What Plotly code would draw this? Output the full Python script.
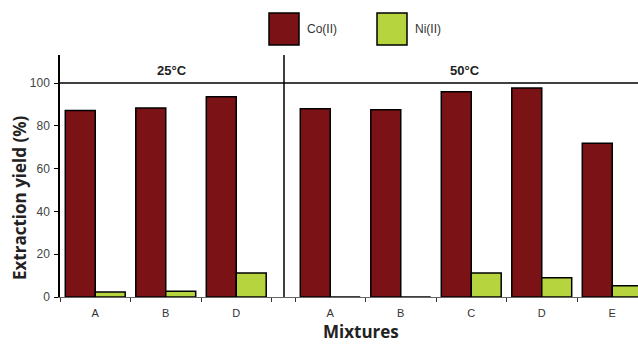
import plotly.graph_objects as go

W, H = 638, 344

# ---- data ----
mix_25 = ["A", "B", "D"]
co_25 = [87.2, 88.3, 93.6]
ni_25 = [2.3, 2.7, 11.2]

mix_50 = ["A", "B", "C", "D", "E"]
co_50 = [88.0, 87.5, 95.9, 97.7, 71.8]
ni_50 = [0.0, 0.0, 11.2, 9.0, 5.3]

series_names = ["Co(II)", "Ni(II)"]
colors = ["#7A1216", "#B5D43E"]
panel_titles = ["25°C", "50°C"]

def px(x):
    return x / W

def py(y):
    return 1 - y / H

fig = go.Figure()
line = dict(color="black", width=1.5)
fig.add_trace(go.Bar(x=mix_25, y=co_25, name=series_names[0], marker=dict(color=colors[0], line=line),
                     xaxis="x", yaxis="y", offsetgroup="co"))
fig.add_trace(go.Bar(x=mix_25, y=ni_25, name=series_names[1], marker=dict(color=colors[1], line=line),
                     xaxis="x", yaxis="y", offsetgroup="ni"))
fig.add_trace(go.Bar(x=mix_50, y=co_50, name=series_names[0], marker=dict(color=colors[0], line=line),
                     xaxis="x2", yaxis="y", offsetgroup="co", showlegend=False))
fig.add_trace(go.Bar(x=mix_50, y=ni_50, name=series_names[1], marker=dict(color=colors[1], line=line),
                     xaxis="x2", yaxis="y", offsetgroup="ni", showlegend=False))

tickfont = dict(family="Liberation Sans, Arial, sans-serif", size=11, color="#333333")
ytickfont = dict(family="Liberation Sans, Arial, sans-serif", size=12, color="#444444")
cat_w = 70.5
xcommon = dict(type="category", tickson="boundaries", ticks="outside", ticklen=4, tickcolor="#333333",
               showline=True, linecolor="#666666", linewidth=1, showgrid=False, zeroline=False,
               tickfont=tickfont, ticklabelstandoff=6, anchor="y", fixedrange=True)
fig.update_layout(
    width=W, height=H, margin=dict(l=0, r=0, t=0, b=0, autoexpand=False),
    paper_bgcolor="white", plot_bgcolor="white",
    barmode="group", bargap=0.15, bargroupgap=0,
    showlegend=False,
    xaxis=dict(domain=[px(60), px(284)], range=[-0.5, -0.5 + (284 - 60) / cat_w],
               categoryorder="array", categoryarray=mix_25, **xcommon),
    xaxis2=dict(domain=[px(284), 1], range=[-0.5 - 11 / cat_w, -0.5 + (638 - 295) / cat_w],
                categoryorder="array", categoryarray=mix_50, **xcommon),
    yaxis=dict(domain=[py(297), py(55)], range=[0, 242 / 2.14], tickvals=[0, 20, 40, 60, 80, 100],
               ticks="outside", ticklen=4, tickcolor="black", showline=True, linecolor="black",
               linewidth=1.5, showgrid=False, zeroline=False, tickfont=ytickfont, anchor="x",
               ticklabelstandoff=2, fixedrange=True),
)

shapes = [
    # panel divider
    dict(type="line", xref="paper", yref="paper", x0=px(284), x1=px(284), y0=py(297), y1=py(55),
         line=dict(color="black", width=1.5)),
    # strip line at 100
    dict(type="line", xref="paper", yref="y", x0=px(60), x1=1, y0=100, y1=100,
         line=dict(color="black", width=1.5)),
]
# legend boxes
leg_x = [269, 377]
for i in range(2):
    shapes.append(dict(type="rect", xref="paper", yref="paper", x0=px(leg_x[i]), x1=px(leg_x[i] + 30),
                       y0=py(45), y1=py(13), fillcolor=colors[i], line=dict(color="black", width=1.5)))
fig.update_layout(shapes=shapes)

ann = []
legfont = dict(family="Liberation Sans, Arial, sans-serif", size=12, color="#333333")
for i in range(2):
    ann.append(dict(text=series_names[i], xref="paper", yref="paper", x=px(leg_x[i] + 36), y=py(29),
                    xanchor="left", yanchor="middle", showarrow=False, font=legfont))
stripfont = dict(family="Liberation Sans, Arial, sans-serif", size=13, color="#222222")
for t, xc in zip(panel_titles, [172, 465]):
    ann.append(dict(text="<b>%s</b>" % t, xref="paper", yref="paper", x=px(xc), y=py(70),
                    xanchor="center", yanchor="middle", showarrow=False, font=stripfont))
titlefont = dict(family="Open Sans, sans-serif", size=17, color="#222222")
ann.append(dict(text="<b>Extraction yield (%)</b>", xref="paper", yref="paper", x=px(19), y=py(198),
                xanchor="center", yanchor="middle", textangle=-90, showarrow=False, font=titlefont))
ann.append(dict(text="<b>Mixtures</b>", xref="paper", yref="paper", x=px(361), y=0,
                xanchor="center", yanchor="bottom", borderpad=0, showarrow=False,
                font=dict(family="Open Sans, sans-serif", size=17, color="#222222")))
fig.update_layout(annotations=ann)

fig.write_html("out.html")
